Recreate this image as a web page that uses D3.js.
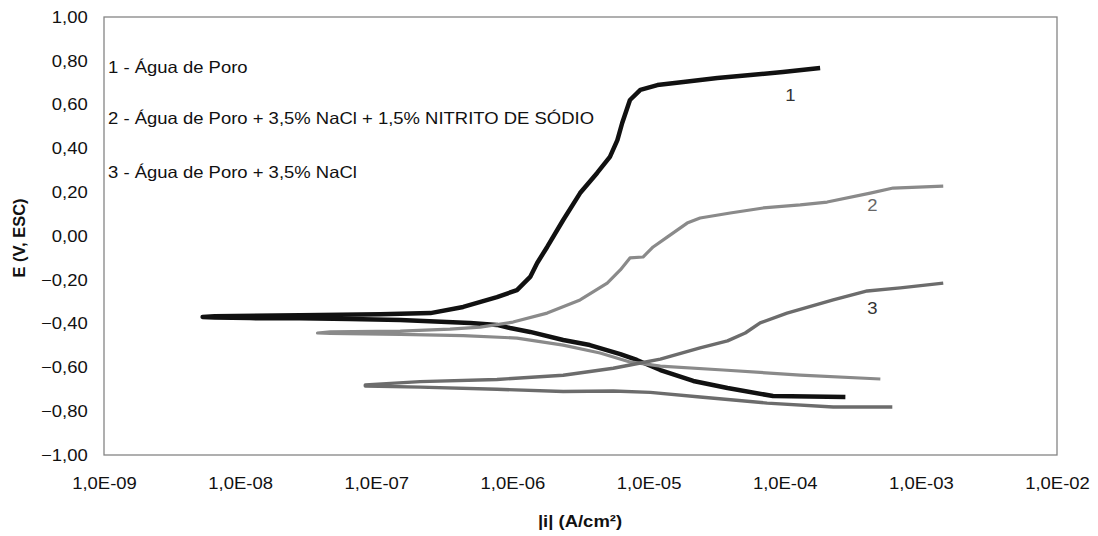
<!DOCTYPE html>
<html>
<head>
<meta charset="utf-8">
<script src="https://cdn.jsdelivr.net/npm/d3@7"></script>
<style>
  html, body { margin: 0; padding: 0; background: #fff; }
  svg { display: block; font-family: "Liberation Sans", Arial, sans-serif; }
</style>
</head>
<body>
<svg id="chart" width="1098" height="536"></svg>
<script>
// Axis ticks
const currentTicks = [1e-9, 1e-8, 1e-7, 1e-6, 1e-5, 1e-4, 1e-3, 1e-2];
const potentialTicks = [-1.0, -0.8, -0.6, -0.4, -0.2, 0.0, 0.2, 0.4, 0.6, 0.8, 1.0];

// Legend entries and curve labels
const legendLines = [
  "1 - Água de Poro",
  "2 - Água de Poro + 3,5% NaCl + 1,5% NITRITO DE SÓDIO",
  "3 - Água de Poro + 3,5% NaCl"
];
const curveNames = ["1", "2", "3"];

// Curve 1: Água de Poro (cathodic end -> Ecorr -> anodic end)
const curve1I = [2.79e-4, 8.2e-5, 3.8e-5, 2.13e-5, 1.22e-5, 8.2e-6, 6.2e-6, 3.7e-6, 2.36e-6, 1.35e-6,
  9.6e-7, 7.7e-7, 4.9e-7, 3.3e-7, 1.5e-7, 6.4e-8, 2.75e-8, 1.18e-8, 6.5e-9, 5.3e-9,
  6.5e-9, 2.75e-8, 1.07e-7, 2.5e-7, 4.35e-7, 7.7e-7, 1.08e-6, 1.35e-6, 1.52e-6, 1.8e-6,
  2.36e-6, 3.14e-6, 4.19e-6, 5.2e-6, 5.9e-6, 6.4e-6, 7.3e-6, 8.7e-6, 1.16e-5, 1.8e-5,
  3.2e-5, 5.6e-5, 9.7e-5, 1.82e-4];
const curve1E = [-0.735, -0.731, -0.694, -0.662, -0.612, -0.566, -0.539, -0.498, -0.475, -0.438,
  -0.420, -0.406, -0.397, -0.393, -0.384, -0.379, -0.376, -0.375, -0.372, -0.370,
  -0.366, -0.362, -0.357, -0.352, -0.324, -0.279, -0.247, -0.187, -0.123, -0.050,
  0.073, 0.196, 0.288, 0.361, 0.438, 0.516, 0.621, 0.667, 0.689, 0.703,
  0.721, 0.735, 0.749, 0.767];

// Curve 2: Água de Poro + 3,5% NaCl + 1,5% nitrito de sódio
const curve2I = [5.04e-4, 1.30e-4, 3.53e-5, 1.22e-5, 7.3e-6, 4.4e-6, 2.36e-6, 1.08e-6, 4.35e-7, 1.5e-7,
  4.6e-8, 3.7e-8,
  4.6e-8, 1.5e-7, 3.48e-7, 5.8e-7, 1.01e-6, 1.8e-6, 3.14e-6, 4.97e-6, 6.2e-6, 7.3e-6,
  9.1e-6, 1.08e-5, 1.37e-5, 1.92e-5, 2.39e-5, 3.98e-5, 6.95e-5, 1.30e-4, 2.05e-4, 4.25e-4,
  6.26e-4, 1.46e-3];
const curve2E = [-0.653, -0.635, -0.612, -0.594, -0.575, -0.534, -0.498, -0.466, -0.455, -0.449,
  -0.445, -0.443,
  -0.438, -0.434, -0.425, -0.416, -0.393, -0.352, -0.292, -0.215, -0.155, -0.100,
  -0.096, -0.050, -0.005, 0.059, 0.082, 0.105, 0.128, 0.142, 0.155, 0.196,
  0.219, 0.228];

// Curve 3: Água de Poro + 3,5% NaCl
const curve3I = [6.17e-4, 2.27e-4, 7.43e-5, 2.39e-5, 1.03e-5, 5.5e-6, 2.36e-6, 7.7e-7, 2.1e-7, 8.3e-8,
  8.3e-8, 2.1e-7, 7.7e-7, 2.36e-6, 5.5e-6, 8.7e-6, 1.22e-5, 2.39e-5, 3.8e-5, 5.13e-5,
  6.6e-5, 1.04e-4, 2.27e-4, 4.04e-4, 7.07e-4, 1.46e-3];
const curve3E = [-0.781, -0.781, -0.763, -0.735, -0.714, -0.708, -0.710, -0.700, -0.690, -0.685,
  -0.680, -0.665, -0.655, -0.636, -0.604, -0.580, -0.562, -0.511, -0.479, -0.443,
  -0.397, -0.352, -0.292, -0.251, -0.237, -0.215];

// Positions of the curve number labels (current, potential)
const labelI = [1.1e-4, 4.4e-4, 4.4e-4];
const labelE = [0.645, 0.142, -0.33];

const series = [
  { I: curve1I, E: curve1E, color: "#111111", width: 4.5 },
  { I: curve2I, E: curve2E, color: "#8a8a8a", width: 3.2 },
  { I: curve3I, E: curve3E, color: "#6c6c6c", width: 3.4 }
];

const svg = d3.select("#chart");
const plotLeft = 104, plotRight = 1057, plotTop = 17, plotBottom = 455;
const sx = 1.12; // glyph width factor

const x = d3.scaleLog().domain([1e-9, 1e-2]).range([plotLeft, plotRight]);
const y = d3.scaleLinear().domain([-1, 1]).range([plotBottom, plotTop]);

const fmtY = v => d3.format(".2f")(v).replace("-0.00", "0.00").replace(".", ",");
const fmtX = v => {
  const e = Math.round(Math.log10(v));
  const s = e < 0 ? "-" : "+";
  return "1,0E" + s + String(Math.abs(e)).padStart(2, "0");
};

// Plot frame
svg.append("rect")
  .attr("x", plotLeft).attr("y", plotTop)
  .attr("width", plotRight - plotLeft).attr("height", plotBottom - plotTop)
  .attr("fill", "#fff").attr("stroke", "#858585").attr("stroke-width", 1.3);

// X axis
const gx = svg.append("g")
  .attr("transform", `translate(0,${plotBottom})`)
  .call(d3.axisBottom(x).tickValues(currentTicks).tickFormat(fmtX).tickSize(0).tickPadding(22));
gx.select(".domain").remove();
gx.selectAll("text")
  .attr("font-size", 16.5).attr("fill", "#111")
  .attr("font-family", '"Liberation Sans", Arial, sans-serif')
  .attr("transform", `scale(${sx},1)`);

// Y axis
const gy = svg.append("g")
  .attr("transform", `translate(${plotLeft},0)`)
  .call(d3.axisLeft(y).tickValues(potentialTicks).tickFormat(fmtY).tickSize(0).tickPadding(14.5));
gy.select(".domain").remove();
gy.selectAll("text")
  .attr("font-size", 16.5).attr("fill", "#111")
  .attr("font-family", '"Liberation Sans", Arial, sans-serif')
  .attr("transform", `scale(${sx},1)`);

// Axis titles
svg.append("text")
  .attr("transform", `translate(580,527) scale(${sx},1)`)
  .attr("text-anchor", "middle")
  .attr("font-size", 16.5).attr("font-weight", "bold").attr("fill", "#111")
  .text("|i| (A/cm²)");
svg.append("text")
  .attr("transform", "translate(25,238) rotate(-90)")
  .attr("text-anchor", "middle")
  .attr("font-size", 16.5).attr("font-weight", "bold").attr("fill", "#111")
  .text("E (V, ESC)");

// Curves
const line = d3.line()
  .x(d => x(d[0]))
  .y(d => y(d[1]));

series.forEach(s => {
  const pts = s.I.map((v, k) => [v, s.E[k]]);
  svg.append("path")
    .datum(pts)
    .attr("d", line)
    .attr("fill", "none")
    .attr("stroke", s.color)
    .attr("stroke-width", s.width)
    .attr("stroke-linejoin", "round")
    .attr("stroke-linecap", "butt");
});

// Legend text
const legendY = [67, 118, 172];
legendLines.forEach((t, k) => {
  svg.append("text")
    .attr("transform", `translate(108,${legendY[k]}) scale(${sx},1)`)
    .attr("dy", "0.35em")
    .attr("font-size", 16.5).attr("fill", "#111")
    .text(t);
});

// Curve number labels
curveNames.forEach((t, k) => {
  svg.append("text")
    .attr("transform", `translate(${x(labelI[k])},${y(labelE[k])}) scale(${sx},1)`)
    .attr("text-anchor", "middle")
    .attr("dy", "0.35em")
    .attr("font-size", 16.5).attr("fill", k === 1 ? "#666" : "#333")
    .text(t);
});
</script>
</body>
</html>
